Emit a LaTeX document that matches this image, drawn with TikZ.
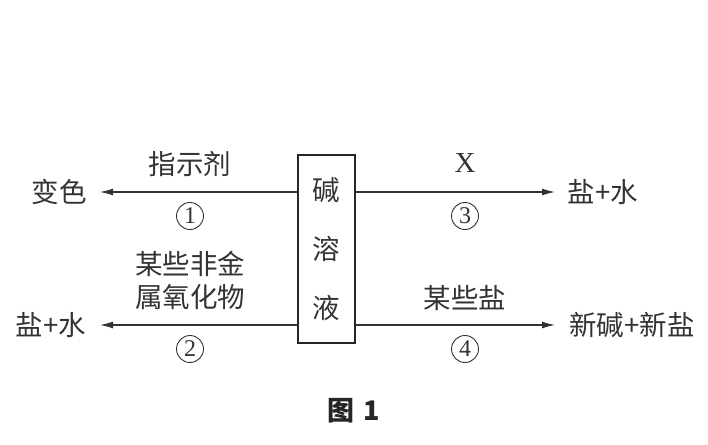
\documentclass[tikz,border=0pt]{standalone}
\usepackage{fontspec}
\setmainfont{Liberation Serif}
\newfontfamily\cjk{Noto Sans CJK SC}
\usetikzlibrary{arrows.meta}
\begin{document}
\begin{tikzpicture}[x=1pt,y=-1pt,
  lbl/.style={font=\cjk\fontsize{27.5}{30}\selectfont, inner sep=0pt, text=black!80},
  num/.style={circle, draw=black!80, line width=0.9pt, minimum size=27pt, inner sep=0pt, font=\fontsize{24}{26}\selectfont, text=black!80},
  conn/.style={draw=black!80, line width=1.1pt, -{Latex[length=13pt,width=7pt]}},
  boxst/.style={draw=black!85, line width=1.3pt, minimum width=57pt, minimum height=188pt, inner sep=0pt, align=center, font=\cjk\fontsize{27.5}{59}\selectfont, text=black!80}]
\useasboundingbox (0,0) rectangle (708,444);
\node[boxst] (box) at (326.5,249) {碱\\溶\\液};
\coordinate (bl1) at (box.west |- 0,192);
\coordinate (br1) at (box.east |- 0,192);
\coordinate (bl2) at (box.west |- 0,325);
\coordinate (br2) at (box.east |- 0,325);
\coordinate (t1) at (100,192);
\coordinate (t3) at (555,192);
\coordinate (t2) at (100,325);
\coordinate (t4) at (555,325);
\draw[conn] (bl1) -- (t1);
\draw[conn] (br1) -- (t3);
\draw[conn] (bl2) -- (t2);
\draw[conn] (br2) -- (t4);
\node[lbl] (bianse) at (59,192) {变色};
\node[lbl] (zsj) at (190,164) {指示剂};
\node[num] (n1) at (190,216) {1};
\node[lbl, font=\fontsize{29}{32}\selectfont] (x) at (465,163) {X};
\node[num] (n3) at (465,216) {3};
\node[lbl] (yanshui1) at (603,192) {盐+水};
\node[lbl] (fjs1) at (190,264) {某些非金};
\node[lbl] (fjs2) at (190,297) {属氧化物};
\node[lbl] (yanshui2) at (51,325) {盐+水};
\node[num] (n2) at (190,349) {2};
\node[lbl] (mxy) at (465,298) {某些盐};
\node[num] (n4) at (465,349) {4};
\node[lbl] (xjxy) at (632,325) {新碱+新盐};
\node[font=\cjk\bfseries\fontsize{27}{30}\selectfont, inner sep=0pt, text=black!85] (fig) at (354,411) {图\hspace{9pt}1};
\end{tikzpicture}
\end{document}
